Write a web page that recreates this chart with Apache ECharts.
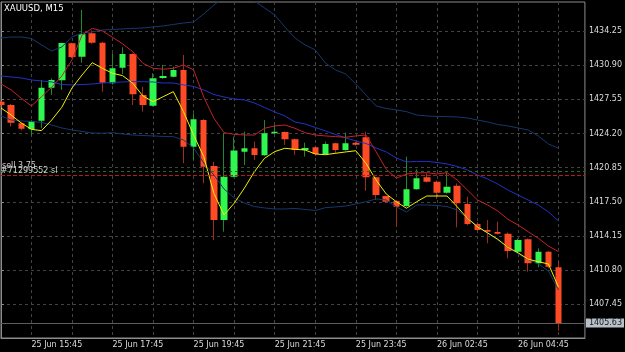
<!DOCTYPE html>
<html>
<head>
<meta charset="utf-8">
<title>XAUUSD, M15</title>
<script src="https://cdn.jsdelivr.net/npm/echarts@6/dist/echarts.min.js"></script>
<style>
  html, body { margin: 0; padding: 0; background: #000; }
  #chart { width: 625px; height: 352px; }
</style>
</head>
<body>
<div id="chart"></div>
<script>
// bars, 15 minutes each (market break between 23:45 and 01:00)
const times = [
  "25 Jun 15:00", "25 Jun 15:15", "25 Jun 15:30", "25 Jun 15:45", "25 Jun 16:00", "25 Jun 16:15", "25 Jun 16:30", "25 Jun 16:45",
  "25 Jun 17:00", "25 Jun 17:15", "25 Jun 17:30", "25 Jun 17:45", "25 Jun 18:00", "25 Jun 18:15", "25 Jun 18:30", "25 Jun 18:45",
  "25 Jun 19:00", "25 Jun 19:15", "25 Jun 19:30", "25 Jun 19:45", "25 Jun 20:00", "25 Jun 20:15", "25 Jun 20:30", "25 Jun 20:45",
  "25 Jun 21:00", "25 Jun 21:15", "25 Jun 21:30", "25 Jun 21:45", "25 Jun 22:00", "25 Jun 22:15", "25 Jun 22:30", "25 Jun 22:45",
  "25 Jun 23:00", "25 Jun 23:15", "25 Jun 23:30", "25 Jun 23:45", "26 Jun 01:00", "26 Jun 01:15", "26 Jun 01:30", "26 Jun 01:45",
  "26 Jun 02:00", "26 Jun 02:15", "26 Jun 02:30", "26 Jun 02:45", "26 Jun 03:00", "26 Jun 03:15", "26 Jun 03:30", "26 Jun 03:45",
  "26 Jun 04:00", "26 Jun 04:15", "26 Jun 04:30", "26 Jun 04:45", "26 Jun 05:00", "26 Jun 05:15", "26 Jun 05:30", "26 Jun 05:45",
];

const opens = [
  1427.32, 1426.99, 1425.20, 1424.61, 1425.46, 1428.69, 1429.42, 1433.04, 1431.73, 1434.02,
  1433.10, 1429.12, 1430.65, 1431.99, 1427.97, 1426.93, 1429.64, 1429.77, 1430.43, 1422.91,
  1425.52, 1421.01, 1415.72, 1419.97, 1422.42, 1422.75, 1422.06, 1424.22, 1424.35, 1423.63,
  1422.58, 1422.85, 1422.19, 1423.24, 1422.58, 1423.30, 1423.83, 1419.91, 1418.07, 1417.58,
  1417.09, 1418.73, 1419.91, 1419.48, 1418.40, 1419.08, 1417.29, 1415.33, 1414.74, 1414.54,
  1414.38, 1412.61, 1413.83, 1411.48, 1412.61, 1411.08,
];
const closes = [
  1427.00, 1425.26, 1424.67, 1425.43, 1428.69, 1429.45, 1433.07, 1431.70, 1433.93, 1433.10,
  1429.18, 1430.59, 1431.99, 1428.04, 1426.99, 1429.61, 1429.84, 1430.43, 1422.91, 1425.60,
  1420.95, 1415.72, 1419.97, 1422.52, 1422.75, 1422.09, 1424.22, 1424.38, 1423.63, 1422.58,
  1422.78, 1422.19, 1423.17, 1422.58, 1423.24, 1423.10, 1419.91, 1418.17, 1417.51, 1417.02,
  1418.73, 1419.81, 1419.48, 1418.40, 1418.99, 1417.36, 1415.33, 1414.74, 1414.57, 1414.38,
  1412.68, 1413.76, 1411.48, 1412.61, 1411.14, 1405.63,
];
const lows = [
  1426.80, 1424.87, 1424.50, 1423.96, 1424.71, 1427.98, 1428.47, 1431.60, 1431.14, 1433.00,
  1428.30, 1429.00, 1430.03, 1426.99, 1426.34, 1426.85, 1429.55, 1429.70, 1421.28, 1421.60,
  1419.32, 1413.76, 1414.57, 1419.90, 1421.11, 1421.60, 1422.00, 1424.15, 1423.07, 1422.10,
  1421.93, 1422.00, 1422.10, 1422.19, 1422.50, 1423.00, 1418.59, 1417.68, 1417.40, 1415.06,
  1417.00, 1418.70, 1419.40, 1417.77, 1418.30, 1415.00, 1415.20, 1414.60, 1413.44, 1414.30,
  1411.97, 1412.50, 1410.65, 1411.08, 1411.00, 1404.87,
];
const highs = [
  1427.50, 1427.10, 1425.30, 1425.50, 1429.45, 1429.60, 1433.10, 1433.10, 1436.31, 1434.30,
  1433.20, 1432.06, 1432.65, 1432.05, 1428.79, 1430.10, 1430.92, 1430.75, 1431.90, 1426.18,
  1425.60, 1421.43, 1424.22, 1423.89, 1424.38, 1423.40, 1425.52, 1425.03, 1424.40, 1423.70,
  1423.30, 1423.00, 1423.40, 1423.30, 1424.28, 1423.40, 1424.38, 1419.95, 1418.10, 1417.65,
  1421.93, 1420.69, 1420.30, 1419.60, 1420.36, 1419.30, 1418.00, 1415.50, 1415.72, 1415.55,
  1414.50, 1413.90, 1413.90, 1412.95, 1412.70, 1411.63,
];

// indicator lines
const fastMa = [
  1426.70, 1426.01, 1425.23, 1424.61, 1424.48, 1425.52, 1426.77, 1428.66, 1429.94, 1431.14,
  1430.59, 1430.10, 1429.87, 1429.12, 1427.88, 1427.32, 1427.81, 1428.30, 1426.34, 1424.05,
  1421.93, 1418.34, 1416.21, 1417.36, 1418.83, 1420.46, 1421.77, 1422.42, 1422.75, 1422.65,
  1422.58, 1422.19, 1422.12, 1422.26, 1422.39, 1422.51, 1421.28, 1419.64, 1418.27, 1417.51,
  1416.87, 1417.51, 1418.07, 1418.07, 1418.07, 1417.02, 1415.89, 1415.06, 1414.45, 1413.83,
  1413.04, 1412.51, 1411.87, 1411.63, 1411.41, 1409.12,
];
const highMa = [
  1429.05, 1428.47, 1427.65, 1426.90, 1427.81, 1428.73, 1429.84, 1431.41, 1433.86, 1434.51,
  1434.25, 1433.63, 1432.98, 1432.22, 1431.08, 1430.59, 1430.50, 1430.59, 1430.92, 1430.43,
  1427.78, 1425.69, 1424.28, 1424.12, 1424.05, 1424.05, 1424.71, 1424.94, 1425.03, 1424.71,
  1424.28, 1424.05, 1423.96, 1423.89, 1423.83, 1423.96, 1424.05, 1422.42, 1420.69, 1419.81,
  1420.23, 1420.33, 1420.36, 1420.23, 1420.36, 1419.64, 1418.66, 1417.68, 1417.19, 1416.60,
  1415.79, 1415.23, 1414.57, 1413.93, 1413.17, 1412.61,
];
const bandMid = [
  1429.84, 1429.74, 1429.64, 1429.45, 1429.35, 1429.25, 1429.00, 1428.96, 1429.00, 1429.05,
  1429.15, 1429.20, 1429.25, 1429.28, 1429.28, 1429.25, 1429.15, 1429.15, 1428.96, 1428.81,
  1428.47, 1428.02, 1427.78, 1427.58, 1427.49, 1427.19, 1426.75, 1426.31, 1425.92, 1425.33,
  1425.13, 1424.79, 1424.45, 1424.10, 1423.76, 1423.47, 1423.22, 1422.78, 1422.39, 1421.80,
  1421.41, 1421.46, 1421.46, 1421.36, 1421.21, 1420.97, 1420.62, 1420.13, 1419.74, 1419.25,
  1418.66, 1418.17, 1417.68, 1417.19, 1416.51, 1415.62,
];
const bandUpper = [
  1433.56, 1433.66, 1433.66, 1433.51, 1432.88, 1432.29, 1432.68, 1433.66, 1434.05, 1434.15,
  1434.35, 1434.40, 1434.45, 1434.50, 1434.54, 1434.64, 1434.74, 1434.89, 1435.03, 1435.13,
  1435.92, 1436.80, 1437.49, 1437.58, 1437.39, 1437.19, 1436.51, 1435.82, 1434.64, 1433.56,
  1432.88, 1432.39, 1431.11, 1430.43, 1430.03, 1429.05, 1427.98, 1426.90, 1426.65, 1426.51,
  1426.34, 1426.01, 1425.92, 1425.87, 1425.85, 1425.82, 1425.72, 1425.52, 1425.33, 1425.08,
  1424.94, 1424.74, 1424.54, 1423.96, 1423.17, 1422.75,
];
const bandLower = [
  1425.92, 1425.52, 1425.43, 1425.38, 1425.28, 1425.03, 1424.74, 1424.54, 1424.40, 1424.25,
  1424.22, 1424.28, 1424.15, 1424.05, 1424.00, 1423.96, 1423.91, 1423.89, 1423.56, 1422.78,
  1421.31, 1420.13, 1418.76, 1417.88, 1417.39, 1417.04, 1416.90, 1416.80, 1416.80, 1416.85,
  1416.75, 1416.65, 1416.93, 1417.00, 1417.09, 1417.29, 1417.51, 1417.78, 1417.68, 1417.00,
  1416.51, 1417.19, 1417.19, 1417.14, 1417.04, 1416.70, 1415.92, 1415.13, 1414.45, 1413.76,
  1413.07, 1412.39, 1411.85, 1411.41, 1410.72, 1408.86,
];

// axis ticks
const yTicks = [1407.45, 1410.80, 1414.15, 1417.50, 1420.85, 1424.20, 1427.55, 1430.90, 1434.25];
const xGridBars = [3, 7, 11, 15, 19, 23, 27, 31, 35, 39, 43, 47, 51, 55];
const xLabelBars = [3, 11, 19, 27, 35, 43, 51];

// order / price lines
const orderPrice = 1420.52;
const stopPrice = 1420.13;
const bidPrice = 1405.63;

const FONT = "DejaVu Sans";

function lineSeries(name, values, color) {
  return {
    name: name,
    type: "line",
    data: values.map((v, i) => [i, v]),
    showSymbol: false,
    symbol: "none",
    lineStyle: { color: color, width: 1 },
    z: 4,
    silent: true,
  };
}

function renderChart() {
  const chart = echarts.init(document.getElementById("chart"), null, { renderer: "canvas" });
  const ohlc = opens.map((o, i) => [i, o, closes[i], lows[i], highs[i]]);

  const option = {
    animation: false,
    backgroundColor: "#000000",
    title: {
      text: "XAUUSD, M15",
      left: 4,
      top: 4,
      padding: 0,
      textStyle: { color: "#ffffff", fontSize: 8.5, fontWeight: "normal", fontFamily: FONT },
    },
    grid: {
      left: 1,
      right: 36,
      top: 2,
      bottom: 14,
      show: true,
      borderColor: "#8c8c8c",
      borderWidth: 1,
    },
    xAxis: {
      type: "value",
      min: 0,
      max: 57.6,
      axisLine: { show: true, lineStyle: { color: "#8c8c8c" } },
      axisTick: { show: false, customValues: xGridBars },
      axisLabel: {
        customValues: xLabelBars,
        formatter: (v) => times[Math.round(v)] || "",
        color: "#dcdcdc",
        fontSize: 8,
        fontFamily: FONT,
        align: "left",
        margin: 3,
      },
      splitLine: { show: true, lineStyle: { color: "#434343", type: [3, 3], width: 1 } },
    },
    yAxis: {
      type: "value",
      position: "right",
      min: 1404.15,
      max: 1437.09,
      axisLine: { show: true, lineStyle: { color: "#8c8c8c" } },
      axisTick: { show: true, length: 3, customValues: yTicks, lineStyle: { color: "#8c8c8c" } },
      axisLabel: {
        customValues: yTicks,
        formatter: (v) => v.toFixed(2),
        color: "#dcdcdc",
        fontSize: 8,
        fontFamily: FONT,
        margin: 4,
      },
      splitLine: { show: true, lineStyle: { color: "#434343", type: [3, 3], width: 1 } },
    },
    series: [
      {
        // wicks
        name: "wicks",
        type: "candlestick",
        data: ohlc,
        barWidth: 1,
        z: 2,
        silent: true,
        itemStyle: {
          color: "#1d8a27",
          color0: "#a02c1a",
          borderColor: "#1d8a27",
          borderColor0: "#a02c1a",
          borderWidth: 1,
        },
      },
      {
        // bodies
        name: "XAUUSD",
        type: "candlestick",
        data: ohlc,
        barWidth: 7,
        z: 3,
        silent: true,
        itemStyle: {
          color: "#30f650",
          color0: "#ff4a26",
          borderColor: "#30f650",
          borderColor0: "#ff4a26",
          borderWidth: 0,
        },
        markLine: {
          silent: true,
          symbol: ["none", "none"],
          animation: false,
          z: 5,
          data: [
            {
              yAxis: orderPrice,
              lineStyle: { color: "#1f6e1f", type: [3, 3], width: 1 },
              label: {
                show: true,
                position: "insideStartTop",
                distance: 1,
                formatter: "sell 3.75",
                color: "#d0d0d0",
                fontSize: 8,
                fontFamily: FONT,
              },
            },
            {
              yAxis: stopPrice,
              lineStyle: { color: "#b31c1c", type: [4, 2], width: 1 },
              label: {
                show: true,
                position: "insideStartTop",
                distance: 0,
                formatter: "#71299552 sl",
                color: "#d0d0d0",
                fontSize: 8,
                fontFamily: FONT,
              },
            },
            {
              yAxis: bidPrice,
              lineStyle: { color: "#5c5c5c", type: "solid", width: 1 },
              label: {
                show: true,
                position: "end",
                distance: 1,
                formatter: bidPrice.toFixed(2),
                color: "#1a1a1a",
                backgroundColor: "#b6bfca",
                padding: [1, 2, 0, 3],
                fontSize: 8,
                fontFamily: FONT,
              },
            },
          ],
        },
      },
      lineSeries("bb upper", bandUpper, "#17386e"),
      lineSeries("bb lower", bandLower, "#17386e"),
      lineSeries("bb middle", bandMid, "#2233c4"),
      lineSeries("ma high", highMa, "#c4222a"),
      lineSeries("ma fast", fastMa, "#f2f200"),
    ],
  };

  chart.setOption(option);
}

document.addEventListener("DOMContentLoaded", function () {
  renderChart();
});
</script>
</body>
</html>
